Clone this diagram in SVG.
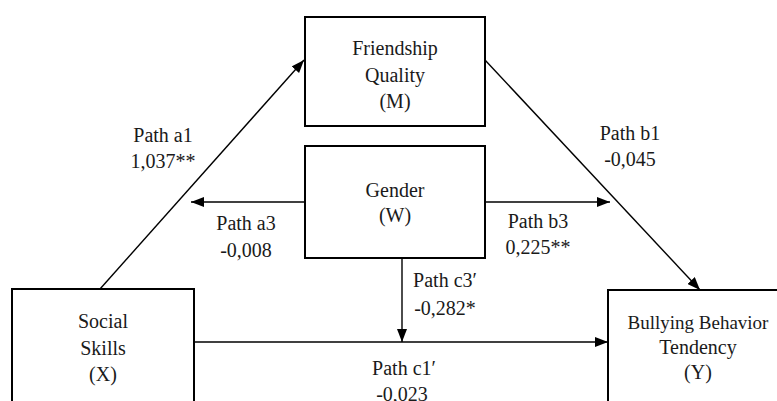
<svg xmlns="http://www.w3.org/2000/svg" width="777" height="401" viewBox="0 0 777 401">
<style>
.box{fill:#fff;stroke:#000;stroke-width:2}
.t{font-family:"Liberation Serif","DejaVu Serif",serif;font-size:20px;fill:#1a1a1a;text-anchor:middle}
.c{stroke:#000;stroke-width:1.4;fill:none;marker-end:url(#ah)}
</style>
<defs>
<marker id="ah" markerUnits="userSpaceOnUse" markerWidth="14" markerHeight="10" refX="13" refY="5" orient="auto">
<path d="M0,0 L13,5 L0,10 z" fill="#000"/>
</marker>
</defs>
<rect width="777" height="401" fill="#fff"/>
<g id="connectors">
<line class="c" x1="100" y1="289" x2="304" y2="60"/>
<line class="c" x1="485" y1="60" x2="700" y2="290"/>
<line class="c" x1="304" y1="202" x2="191" y2="202"/>
<line class="c" x1="485" y1="202" x2="610" y2="202"/>
<line class="c" x1="402" y1="258" x2="402" y2="342"/>
<line class="c" x1="194" y1="342" x2="608" y2="342"/>
</g>
<g id="friendship">
<rect class="box" x="305" y="17" width="180" height="109"/>
<text class="t" x="395" y="55">Friendship</text>
<text class="t" x="395" y="82">Quality</text>
<text class="t" x="395" y="108">(M)</text>
</g>
<g id="gender">
<rect class="box" x="305" y="146" width="180" height="112"/>
<text class="t" x="395" y="197">Gender</text>
<text class="t" x="395" y="222">(W)</text>
</g>
<g id="social">
<rect class="box" x="12" y="289" width="182" height="130"/>
<text class="t" x="103" y="328">Social</text>
<text class="t" x="103" y="355">Skills</text>
<text class="t" x="103" y="381">(X)</text>
</g>
<g id="bullying">
<rect class="box" x="608" y="290" width="190" height="130"/>
<text class="t" x="698" y="329" style="font-size:19px">Bullying Behavior</text>
<text class="t" x="698" y="354">Tendency</text>
<text class="t" x="698" y="379">(Y)</text>
</g>
<g id="labels">
<text class="t" x="163" y="142">Path a1</text>
<text class="t" x="163" y="168">1,037**</text>
<text class="t" x="246" y="230">Path a3</text>
<text class="t" x="246" y="257">-0,008</text>
<text class="t" x="630" y="140">Path b1</text>
<text class="t" x="630" y="166">-0,045</text>
<text class="t" x="538" y="228">Path b3</text>
<text class="t" x="538" y="254">0,225**</text>
<text class="t" x="445" y="287">Path c3′</text>
<text class="t" x="445" y="315">-0,282*</text>
<text class="t" x="404" y="375">Path c1′</text>
<text class="t" x="402" y="401">-0,023</text>
</g>
</svg>
